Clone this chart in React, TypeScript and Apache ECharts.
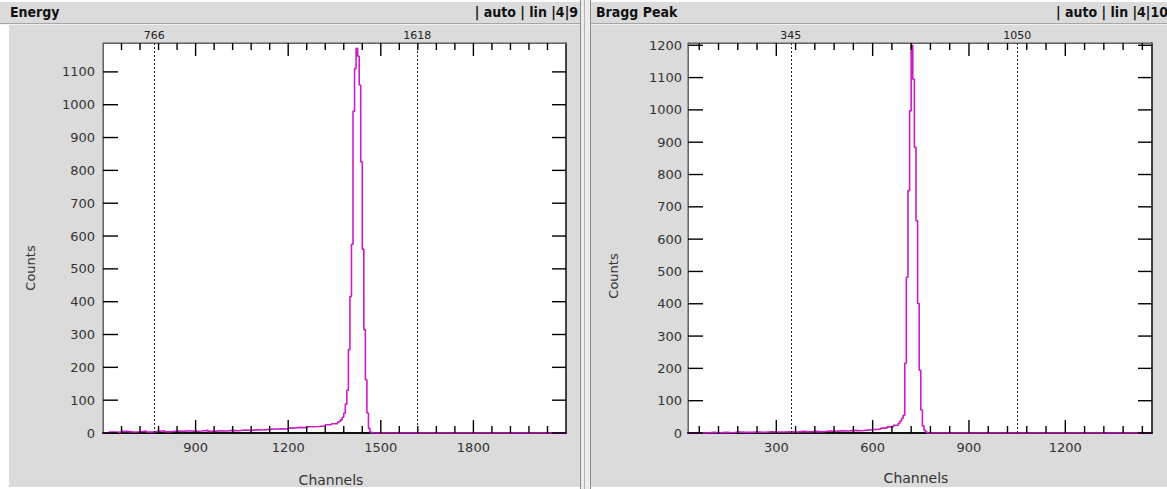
import React, { useEffect, useRef } from "react";
import * as echarts from "echarts";

const W = 1167;
const H = 489;
const FONT = "'DejaVu Sans', 'Liberation Sans', sans-serif";
const FONT_C = "'DejaVu Sans Condensed', 'DejaVu Sans', sans-serif";
const LINE_COLOR = "#c81ec8";

// ---------- Energy panel ----------
const ENERGY_TITLE = "Energy";
const ENERGY_INFO = "| auto | lin |4|9";
const ENERGY_CH = [
  600, 620, 640, 660, 680, 700, 720, 740, 760, 780, 800, 820, 840, 860, 880, 900, 920, 940, 960, 980,
  1000, 1020, 1040, 1060, 1080, 1100, 1120, 1140, 1160, 1180, 1200, 1220, 1240, 1260, 1280, 1300, 1320, 1340, 1360,
  1365, 1370, 1375, 1380, 1385, 1390, 1395, 1400, 1405, 1410, 1415, 1420, 1425, 1430, 1435, 1440, 1445, 1450, 1455,
  1460, 1465, 1470, 2100,
];
const ENERGY_COUNTS = [
  0, 3, 2, 5, 3, 4, 6, 3, 5, 7, 4, 6, 5, 7, 5, 6, 8, 5, 7, 6,
  8, 7, 9, 8, 10, 9, 11, 12, 13, 12, 15, 17, 16, 19, 20, 22, 25, 28, 33,
  36, 40, 48, 60, 88, 130, 254, 416, 575, 980, 1110, 1172, 1148, 1060, 826, 560, 315, 162, 61,
  14, 3, 0, 0,
];
const ENERGY_X_MIN = 600;
const ENERGY_X_MAX = 2100;
const ENERGY_Y_MAX = 1188;
const ENERGY_X_LABELS = [900, 1200, 1500, 1800];
const ENERGY_Y_LABELS = [0, 100, 200, 300, 400, 500, 600, 700, 800, 900, 1000, 1100];
const ENERGY_MARKERS = [766, 1618];

// ---------- Bragg Peak panel ----------
const BRAGG_TITLE = "Bragg Peak";
const BRAGG_INFO = "| auto | lin |4|10";
const BRAGG_CH = [
  25, 45, 65, 85, 105, 125, 145, 165, 185, 205, 225, 245, 265, 285, 305, 325, 345, 365, 385, 405,
  425, 445, 465, 485, 505, 525, 545, 565, 585, 605, 625, 645, 665, 680, 685,
  690, 695, 700, 705, 710, 715, 720, 725, 730, 735, 740, 745, 750, 755, 760, 765, 770, 1470,
];
const BRAGG_COUNTS = [
  0, 1, 0, 2, 1, 2, 1, 3, 2, 2, 3, 2, 4, 3, 3, 4, 3, 5, 4, 5,
  4, 6, 5, 7, 6, 8, 7, 9, 11, 12, 15, 19, 24, 30, 37,
  45, 55, 216, 482, 750, 997, 1200, 1095, 884, 657, 401, 194, 71, 22, 8, 3, 0, 0,
];
const BRAGG_X_MIN = 25;
const BRAGG_X_MAX = 1470;
const BRAGG_Y_MAX = 1207;
const BRAGG_X_LABELS = [300, 600, 900, 1200];
const BRAGG_Y_LABELS = [0, 100, 200, 300, 400, 500, 600, 700, 800, 900, 1000, 1100, 1200];
const BRAGG_MARKERS = [345, 1050];

const X_NAME = "Channels";
const Y_NAME = "Counts";
const MAJOR_STEP = 300;
const MINOR_STEP = 60;

function minorTicks(min: number, max: number) {
  const out: number[] = [];
  const start = Math.ceil(min / MINOR_STEP) * MINOR_STEP;
  for (let v = start; v < max; v += MINOR_STEP) {
    if (v % MAJOR_STEP !== 0 && v > min) out.push(v);
  }
  return out;
}
function majorTicks(min: number, max: number) {
  const out: number[] = [];
  const start = Math.ceil(min / MAJOR_STEP) * MAJOR_STEP;
  for (let v = start; v < max; v += MAJOR_STEP) if (v > min) out.push(v);
  return out;
}

type Panel = {
  grid: { left: number; top: number; width: number; height: number };
  xMin: number;
  xMax: number;
  yMax: number;
  xLabels: number[];
  yLabels: number[];
  ch: number[];
  counts: number[];
  markers: number[];
  yLabelMargin: number;
};

const plain = (v: number) => String(v);
const X_MAJOR_LEN = 13;
const X_MINOR_LEN = 7;
const Y_LEN = 15;

function buildPanel(p: Panel, gi: number) {
  const xAxes = [
    {
      type: "value",
      gridIndex: gi,
      min: p.xMin,
      max: p.xMax,
      position: "bottom",
      splitLine: { show: false },
      axisLine: { show: true, onZero: false, lineStyle: { color: "#111", width: 2 } },
      axisTick: { show: false },
      axisLabel: {
        show: true,
        customValues: p.xLabels,
        formatter: plain,
        color: "#333",
        fontSize: 13,
        fontFamily: FONT,
        margin: 8,
      },
    },
    {
      type: "value",
      gridIndex: gi,
      min: p.xMin,
      max: p.xMax,
      position: "top",
      splitLine: { show: false },
      axisLine: { show: true, onZero: false, lineStyle: { color: "#666", width: 1 } },
      axisTick: { show: false },
      axisLabel: { show: false },
    },
  ];
  const yAxes = [
    {
      type: "value",
      gridIndex: gi,
      min: 0,
      max: p.yMax,
      position: "left",
      splitLine: { show: false },
      axisLine: { show: true, onZero: false, lineStyle: { color: "#666", width: 1 } },
      axisTick: { show: false },
      axisLabel: {
        show: true,
        customValues: p.yLabels,
        formatter: plain,
        color: "#333",
        fontSize: 13,
        fontFamily: FONT,
        margin: p.yLabelMargin,
      },
    },
    {
      type: "value",
      gridIndex: gi,
      min: 0,
      max: p.yMax,
      position: "right",
      splitLine: { show: false },
      axisLine: { show: true, onZero: false, lineStyle: { color: "#222", width: 1.5 } },
      axisTick: { show: false },
      axisLabel: { show: false },
    },
  ];
  const hist = {
    type: "line",
    xAxisIndex: gi * 2,
    yAxisIndex: gi * 2,
    step: "end",
    showSymbol: false,
    symbol: "none",
    data: p.ch.map((c, i) => [c, p.counts[i]]),
    lineStyle: { color: LINE_COLOR, width: 1.6 },
    itemStyle: { color: LINE_COLOR },
    z: 3,
    markLine: {
      silent: true,
      symbol: ["none", "none"],
      animation: false,
      lineStyle: { type: [2, 2], color: "#222", width: 1 },
      label: {
        show: true,
        position: "end",
        distance: 2,
        formatter: (q: any) => String(q.value),
        fontSize: 11,
        fontFamily: FONT,
        color: "#222",
      },
      data: p.markers.map((v) => ({ xAxis: v })),
    },
  };
  return { xAxes, yAxes, series: [hist] };
}

// Tick marks drawn as graphic lines, positioned through the chart's own scales.
function tickGraphics(chart: any, p: Panel, gi: number) {
  const out: any[] = [];
  const finder = { xAxisIndex: gi * 2, yAxisIndex: gi * 2 };
  const style = { stroke: "#000", lineWidth: 1.4 };
  const addX = (v: number, len: number) => {
    const b = chart.convertToPixel(finder, [v, 0]);
    const t = chart.convertToPixel(finder, [v, p.yMax]);
    if (!b || !t) return;
    out.push({ type: "line", z: 50, silent: true, shape: { x1: b[0], y1: b[1], x2: b[0], y2: b[1] - len }, style });
    out.push({ type: "line", z: 50, silent: true, shape: { x1: t[0], y1: t[1], x2: t[0], y2: t[1] + len }, style });
  };
  majorTicks(p.xMin, p.xMax).forEach((v) => addX(v, X_MAJOR_LEN));
  minorTicks(p.xMin, p.xMax).forEach((v) => addX(v, X_MINOR_LEN));
  p.yLabels.forEach((v) => {
    const l = chart.convertToPixel(finder, [p.xMin, v]);
    const r = chart.convertToPixel(finder, [p.xMax, v]);
    if (!l || !r) return;
    out.push({ type: "line", z: 50, silent: true, shape: { x1: l[0], y1: l[1], x2: l[0] + Y_LEN, y2: l[1] }, style });
    out.push({ type: "line", z: 50, silent: true, shape: { x1: r[0], y1: r[1], x2: r[0] - Y_LEN + 1, y2: r[1] }, style });
  });
  return out;
}

const App: React.FC = () => {
  const ref = useRef<HTMLDivElement>(null);
  useEffect(() => {
    if (!ref.current) return;
    const chart = echarts.init(ref.current, undefined, { renderer: "svg" });

    const left: Panel = {
      grid: { left: 103, top: 43, width: 463, height: 390 },
      xMin: ENERGY_X_MIN,
      xMax: ENERGY_X_MAX,
      yMax: ENERGY_Y_MAX,
      xLabels: ENERGY_X_LABELS,
      yLabels: ENERGY_Y_LABELS,
      ch: ENERGY_CH,
      counts: ENERGY_COUNTS,
      markers: ENERGY_MARKERS,
      yLabelMargin: 8,
    };
    const right: Panel = {
      grid: { left: 688, top: 43, width: 464, height: 390 },
      xMin: BRAGG_X_MIN,
      xMax: BRAGG_X_MAX,
      yMax: BRAGG_Y_MAX,
      xLabels: BRAGG_X_LABELS,
      yLabels: BRAGG_Y_LABELS,
      ch: BRAGG_CH,
      counts: BRAGG_COUNTS,
      markers: BRAGG_MARKERS,
      yLabelMargin: 6,
    };
    const a = buildPanel(left, 0);
    const b = buildPanel(right, 1);

    const gridCommon = {
      show: true,
      backgroundColor: "#ffffff",
      borderColor: "#555",
      borderWidth: 1,
    };

    const PANEL_BG = "#dbdbdb";
    const graphic: any[] = [
      { type: "rect", z: -100, silent: true, shape: { x: 0, y: 0, width: W, height: H }, style: { fill: "#ffffff" } },
      { type: "rect", z: -99, silent: true, shape: { x: 0, y: 2, width: 581, height: 22 }, style: { fill: PANEL_BG } },
      { type: "rect", z: -99, silent: true, shape: { x: 9, y: 24, width: 572, height: 463 }, style: { fill: PANEL_BG } },
      { type: "rect", z: -99, silent: true, shape: { x: 591, y: 2, width: 576, height: 22 }, style: { fill: PANEL_BG } },
      { type: "rect", z: -99, silent: true, shape: { x: 591, y: 24, width: 576, height: 463 }, style: { fill: PANEL_BG } },
      { type: "rect", z: -98, silent: true, shape: { x: 581, y: 0, width: 10, height: 489 }, style: { fill: "#ececec" } },
      { type: "line", z: -97, silent: true, shape: { x1: 580.5, y1: 0, x2: 580.5, y2: 489 }, style: { stroke: "#8c8c8c", lineWidth: 1 } },
      { type: "line", z: -97, silent: true, shape: { x1: 584.5, y1: 0, x2: 584.5, y2: 489 }, style: { stroke: "#b4b4b4", lineWidth: 1 } },
      { type: "line", z: -97, silent: true, shape: { x1: 590.5, y1: 0, x2: 590.5, y2: 489 }, style: { stroke: "#8c8c8c", lineWidth: 1 } },
      { type: "line", z: -97, silent: true, shape: { x1: 0, y1: 23.5, x2: 580, y2: 23.5 }, style: { stroke: "#a6a6a6", lineWidth: 1 } },
      { type: "line", z: -97, silent: true, shape: { x1: 0, y1: 24.5, x2: 580, y2: 24.5 }, style: { stroke: "#f2f2f2", lineWidth: 1 } },
      { type: "line", z: -97, silent: true, shape: { x1: 591, y1: 23.5, x2: 1167, y2: 23.5 }, style: { stroke: "#a6a6a6", lineWidth: 1 } },
      { type: "line", z: -97, silent: true, shape: { x1: 591, y1: 24.5, x2: 1167, y2: 24.5 }, style: { stroke: "#f2f2f2", lineWidth: 1 } },
      {
        type: "text", z: 10, silent: true, x: 10, y: 12,
        style: { text: ENERGY_TITLE, fill: "#111", font: `bold 14px ${FONT_C}`, textVerticalAlign: "middle", textAlign: "left" },
      },
      {
        type: "text", z: 10, silent: true, x: 578, y: 12,
        style: { text: ENERGY_INFO, fill: "#111", font: `bold 14px ${FONT_C}`, textVerticalAlign: "middle", textAlign: "right" },
      },
      {
        type: "text", z: 10, silent: true, x: 596, y: 12,
        style: { text: BRAGG_TITLE, fill: "#111", font: `bold 14px ${FONT_C}`, textVerticalAlign: "middle", textAlign: "left" },
      },
      {
        type: "text", z: 10, silent: true, x: 1168, y: 12,
        style: { text: BRAGG_INFO, fill: "#111", font: `bold 14px ${FONT_C}`, textVerticalAlign: "middle", textAlign: "right" },
      },
      {
        type: "text", z: 10, silent: true, x: 30, y: 268, rotation: Math.PI / 2,
        style: { text: Y_NAME, fill: "#333", font: `13px ${FONT}`, textVerticalAlign: "middle", textAlign: "center" },
      },
      {
        type: "text", z: 10, silent: true, x: 613, y: 276, rotation: Math.PI / 2,
        style: { text: Y_NAME, fill: "#333", font: `13px ${FONT}`, textVerticalAlign: "middle", textAlign: "center" },
      },
      {
        type: "text", z: 10, silent: true, x: 331, y: 480,
        style: { text: X_NAME, fill: "#333", font: `14px ${FONT}`, textVerticalAlign: "middle", textAlign: "center" },
      },
      {
        type: "text", z: 10, silent: true, x: 916, y: 478,
        style: { text: X_NAME, fill: "#333", font: `14px ${FONT}`, textVerticalAlign: "middle", textAlign: "center" },
      },
    ];

    chart.setOption({
      animation: false,
      backgroundColor: "#ffffff",
      grid: [
        { ...gridCommon, ...left.grid },
        { ...gridCommon, ...right.grid },
      ],
      xAxis: [...a.xAxes, ...b.xAxes],
      yAxis: [...a.yAxes, ...b.yAxes],
      series: [...a.series, ...b.series],
      graphic,
    });
    const ticks = [...tickGraphics(chart, left, 0), ...tickGraphics(chart, right, 1)];
    chart.setOption({ graphic: [...graphic, ...ticks] });
    return () => chart.dispose();
  }, []);
  return (
    <div
      ref={ref}
      style={{ position: "absolute", left: 0, top: 0, width: W, height: H }}
    />
  );
};

export default App;
